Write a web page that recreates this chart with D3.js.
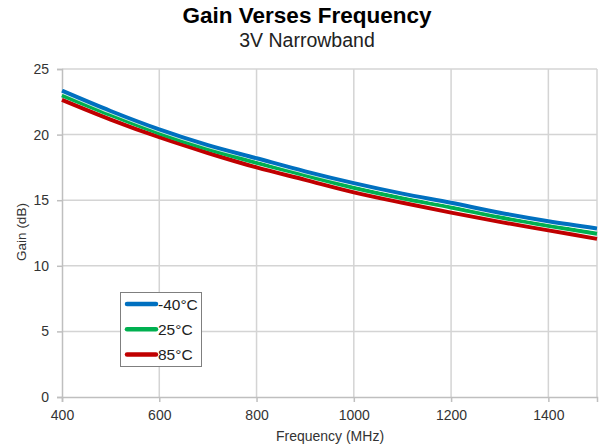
<!DOCTYPE html>
<html><head><meta charset="utf-8">
<script src="https://cdn.jsdelivr.net/npm/d3@7"></script>
<style>
body{margin:0;background:#fff;}
svg{font-family:"Liberation Sans",Arial,sans-serif;}
</style></head>
<body><svg id="c" width="600" height="448"></svg>
<script>
const freqs = [400,500,600,700,800,900,1000,1100,1200,1300,1400,1500];
const gainM40 = [23.35,21.8,20.4,19.2,18.2,17.2,16.3,15.5,14.8,14.05,13.4,12.85];
const gain25  = [23.0,21.5,20.1,18.9,17.85,16.9,15.95,15.15,14.45,13.7,13.05,12.45];
const gain85  = [22.65,21.15,19.8,18.6,17.5,16.55,15.6,14.8,14.05,13.35,12.7,12.05];
const seriesNames = ["-40°C","25°C","85°C"];
const seriesColors = ["#0070C0","#00B050","#C00000"];
const xTicks = [400,600,800,1000,1200,1400];
const yTicks = [0,5,10,15,20,25];

const svg = d3.select("#c");
const L=62,R=597,T=69,B=397;
const x = d3.scaleLinear().domain([400,1500]).range([L,R]);
const y = d3.scaleLinear().domain([0,25]).range([B,T]);

// gridlines
svg.append("g").selectAll("line").data(xTicks.slice(1)).join("line")
  .attr("x1",d=>x(d)).attr("x2",d=>x(d)).attr("y1",T).attr("y2",B)
  .attr("stroke","#d4d4d4").attr("stroke-width",1.5);
svg.append("line").attr("x1",R).attr("x2",R).attr("y1",T).attr("y2",B)
  .attr("stroke","#d4d4d4").attr("stroke-width",1.5);
svg.append("g").selectAll("line").data(yTicks.slice(1)).join("line")
  .attr("x1",L).attr("x2",R).attr("y1",d=>y(d)).attr("y2",d=>y(d))
  .attr("stroke","#d4d4d4").attr("stroke-width",1.5);

// axes
const xAxis = svg.append("g").attr("transform",`translate(0,${B})`)
  .call(d3.axisBottom(x).tickValues(xTicks).tickSize(5).tickPadding(8).tickFormat(d3.format("d")));
const yAxis = svg.append("g").attr("transform",`translate(${L},0)`)
  .call(d3.axisLeft(y).tickValues(yTicks).tickSize(5).tickPadding(8));
[xAxis,yAxis].forEach(a=>{
  a.select(".domain").attr("stroke","#bfbfbf").attr("stroke-width",1.5);
  a.selectAll(".tick line").attr("stroke","#bfbfbf").attr("stroke-width",1.5);
  a.selectAll("text").attr("font-size",14).attr("fill","#333").attr("font-family","Liberation Sans, Arial, sans-serif");
});

// lines (drawn red, green, blue; white halo for separation)
const data = [gainM40,gain25,gain85];
const line = d3.line().x((d,i)=>x(freqs[i])).y(d=>y(d)).curve(d3.curveMonotoneX);
const order = [2,1,0];
const lg0 = svg.append("g");
order.forEach(i=>{
  if(i===0){
    lg0.append("path").attr("d",line(data[i])).attr("fill","none")
      .attr("stroke","#fff").attr("stroke-width",5.5).attr("stroke-opacity",0.8);
  }
  lg0.append("path").attr("d",line(data[i])).attr("fill","none")
    .attr("stroke",seriesColors[i]).attr("stroke-width",4)
    .attr("stroke-linejoin","round");
});

// titles
svg.append("text").attr("x",307).attr("y",23).attr("text-anchor","middle")
  .attr("font-size",22.5).attr("font-weight","bold").attr("fill","#000").text("Gain Verses Frequency");
svg.append("text").attr("x",307).attr("y",47).attr("text-anchor","middle")
  .attr("font-size",19.5).attr("fill","#222").text("3V Narrowband");
svg.append("text").attr("x",330).attr("y",441).attr("text-anchor","middle")
  .attr("font-size",14).attr("fill","#333").text("Frequency (MHz)");
svg.append("text").attr("transform","translate(26,232) rotate(-90)").attr("text-anchor","middle")
  .attr("font-size",13.5).attr("fill","#333").text("Gain (dB)");

// legend
const lg = svg.append("g");
lg.append("rect").attr("x",120.5).attr("y",292.5).attr("width",81).attr("height",74)
  .attr("fill","#fff").attr("stroke","#7f7f7f").attr("stroke-width",1);
const items = lg.selectAll("g").data(seriesNames).join("g")
  .attr("transform",(d,i)=>`translate(0,${304+i*25.3})`);
items.append("line").attr("x1",127).attr("x2",156).attr("y1",0).attr("y2",0)
  .attr("stroke",(d,i)=>seriesColors[i]).attr("stroke-width",4.5).attr("stroke-linecap","round");
items.append("text").attr("x",158).attr("y",5.5).attr("font-size",15.5).attr("fill","#222").text(d=>d);
</script></body></html>
